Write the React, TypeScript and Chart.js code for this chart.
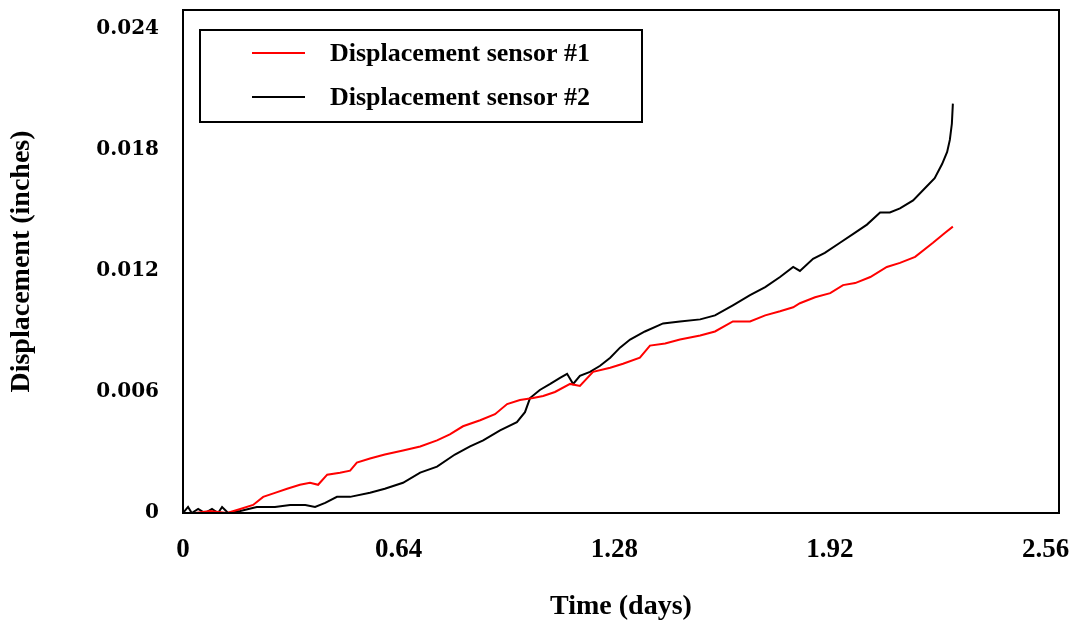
import React, { useEffect, useRef } from "react";
import { Chart, registerables } from "chart.js";

Chart.register(...registerables);

// Sensor #1 (red) readings: time in days, displacement in inches
const sensor1Days = [
  0.0, 0.036, 0.08, 0.131, 0.17, 0.208, 0.238, 0.273, 0.309, 0.347, 0.377, 0.401,
  0.428, 0.466, 0.496, 0.516, 0.555, 0.599, 0.653, 0.704, 0.754, 0.792, 0.831, 0.882,
  0.926, 0.962, 1.0, 1.039, 1.069, 1.104, 1.149, 1.178, 1.217, 1.268, 1.306, 1.356,
  1.386, 1.431, 1.475, 1.535, 1.579, 1.632, 1.683, 1.728, 1.772, 1.811, 1.831, 1.876,
  1.921, 1.959, 1.995, 2.04, 2.089, 2.128, 2.173, 2.226, 2.262, 2.285,
];
const sensor1Disp = [
  0.0, 0.0, 0.0001, 0.0, 0.0002, 0.0004, 0.0008, 0.001, 0.0012, 0.0014, 0.0015, 0.0014,
  0.0019, 0.002, 0.0021, 0.0025, 0.0027, 0.0029, 0.0031, 0.0033, 0.0036, 0.0039, 0.0043, 0.0046,
  0.0049, 0.0054, 0.0056, 0.0057, 0.0058, 0.006, 0.0064, 0.0063, 0.007, 0.0072, 0.0074, 0.0077,
  0.0083, 0.0084, 0.0086, 0.0088, 0.009, 0.0095, 0.0095, 0.0098, 0.01, 0.0102, 0.0104, 0.0107,
  0.0109, 0.0113, 0.0114, 0.0117, 0.0122, 0.0124, 0.0127, 0.0134, 0.0139, 0.0142,
];

// Sensor #2 (black) readings: time in days, displacement in inches
const sensor2Days = [
  0.0, 0.015, 0.026, 0.045, 0.065, 0.086, 0.104, 0.116, 0.134, 0.17, 0.219, 0.273,
  0.318, 0.363, 0.392, 0.422, 0.457, 0.496, 0.555, 0.599, 0.653, 0.704, 0.754, 0.807,
  0.852, 0.891, 0.941, 0.991, 1.015, 1.03, 1.059, 1.09, 1.119, 1.14, 1.158, 1.178,
  1.208, 1.238, 1.268, 1.297, 1.327, 1.371, 1.425, 1.475, 1.535, 1.579, 1.632, 1.683,
  1.728, 1.772, 1.811, 1.831, 1.87, 1.905, 1.95, 1.995, 2.03, 2.069, 2.098, 2.128,
  2.167, 2.202, 2.231, 2.253, 2.268, 2.276, 2.282, 2.285,
];
const sensor2Disp = [
  0.0, 0.0003, 0.0, 0.0002, 0.0, 0.0002, 0.0, 0.0003, 0.0, 0.0001, 0.0003, 0.0003,
  0.0004, 0.0004, 0.0003, 0.0005, 0.0008, 0.0008, 0.001, 0.0012, 0.0015, 0.002, 0.0023, 0.0029,
  0.0033, 0.0036, 0.0041, 0.0045, 0.005, 0.0057, 0.0061, 0.0064, 0.0067, 0.0069, 0.0064, 0.0068,
  0.007, 0.0073, 0.0077, 0.0082, 0.0086, 0.009, 0.0094, 0.0095, 0.0096, 0.0098, 0.0103, 0.0108,
  0.0112, 0.0117, 0.0122, 0.012, 0.0126, 0.0129, 0.0134, 0.0139, 0.0143, 0.0149, 0.0149, 0.0151,
  0.0155, 0.0161, 0.0166, 0.0173, 0.0179, 0.0185, 0.0193, 0.0203,
];

const seriesLabels = ["Displacement sensor #1", "Displacement sensor #2"];
const seriesColors = ["#ff0000", "#000000"];

const xTickValues = [0, 0.64, 1.28, 1.92, 2.56];
const yTickValues = [0, 0.006, 0.012, 0.018, 0.024];

const SERIF = "'Liberation Serif', 'Times New Roman', serif";
const WIDE_SERIF = "'DejaVu Serif', serif";

const toPoints = (xs: number[], ys: number[]) => xs.map((x, i) => ({ x, y: ys[i] }));

// Black frame around the plotting area
const framePlugin = {
  id: "plotFrame",
  afterDatasetsDraw(chart: any) {
    const { ctx, chartArea } = chart;
    ctx.save();
    ctx.strokeStyle = "#000";
    ctx.lineWidth = 2;
    ctx.strokeRect(chartArea.left, chartArea.top, chartArea.right - chartArea.left, chartArea.bottom - chartArea.top);
    ctx.restore();
  },
};

// Boxed legend in the upper left of the plot
const boxLegendPlugin = {
  id: "boxLegend",
  afterDraw(chart: any) {
    const { ctx, chartArea } = chart;
    const bx = chartArea.left + 17;
    const by = chartArea.top + 20;
    const bw = 442;
    const bh = 92;
    ctx.save();
    ctx.fillStyle = "#fff";
    ctx.fillRect(bx, by, bw, bh);
    ctx.strokeStyle = "#000";
    ctx.lineWidth = 2;
    ctx.strokeRect(bx, by, bw, bh);
    chart.data.datasets.forEach((ds: any, i: number) => {
      const y = by + 23 + i * 44;
      ctx.strokeStyle = ds.borderColor;
      ctx.lineWidth = 2;
      ctx.beginPath();
      ctx.moveTo(bx + 52, y);
      ctx.lineTo(bx + 105, y);
      ctx.stroke();
      ctx.fillStyle = "#000";
      ctx.font = `bold 26px ${SERIF}`;
      ctx.textBaseline = "middle";
      ctx.textAlign = "left";
      ctx.fillText(ds.label, bx + 130, y + 1);
    });
    ctx.restore();
  },
};

export default function App() {
  const canvasRef = useRef<HTMLCanvasElement | null>(null);

  useEffect(() => {
    if (!canvasRef.current) return;
    const chart = new Chart(canvasRef.current, {
      type: "line",
      data: {
        datasets: [
          {
            label: seriesLabels[0],
            data: toPoints(sensor1Days, sensor1Disp),
            borderColor: seriesColors[0],
            borderWidth: 2,
            pointRadius: 0,
            tension: 0,
            fill: false,
          },
          {
            label: seriesLabels[1],
            data: toPoints(sensor2Days, sensor2Disp),
            borderColor: seriesColors[1],
            borderWidth: 2,
            pointRadius: 0,
            tension: 0,
            fill: false,
          },
        ],
      },
      options: {
        responsive: false,
        animation: false,
        layout: { padding: { top: 10, right: 15, left: 0, bottom: 0 } },
        plugins: {
          legend: { display: false },
          tooltip: { enabled: false },
        },
        scales: {
          x: {
            type: "linear",
            min: 0,
            max: 2.6,
            grid: { display: false, drawTicks: false },
            border: { display: false },
            afterBuildTicks: (scale: any) => {
              scale.ticks = xTickValues.map((v) => ({ value: v }));
            },
            afterFit: (scale: any) => {
              scale.height = 115;
              scale.paddingLeft = 0;
              scale.paddingRight = 0;
            },
            ticks: {
              color: "#000",
              padding: 21,
              maxRotation: 0,
              font: { family: SERIF, size: 27, weight: "bold" },
              callback: (v: any) => (Number(v) === 0 ? "0" : Number(v).toFixed(2)),
            },
            title: {
              display: true,
              text: "Time (days)",
              color: "#000",
              font: { family: SERIF, size: 28, weight: "bold" },
              padding: { top: 0, bottom: 4 },
            },
          },
          y: {
            type: "linear",
            min: 0,
            max: 0.02494,
            grid: { display: false, drawTicks: false },
            border: { display: false },
            afterBuildTicks: (scale: any) => {
              scale.ticks = yTickValues.map((v) => ({ value: v }));
            },
            afterFit: (scale: any) => {
              scale.width = 183;
              scale.paddingTop = 0;
              scale.paddingBottom = 0;
            },
            ticks: {
              color: "#000",
              padding: 24,
              font: { family: WIDE_SERIF, size: 20, weight: "bold" },
              callback: (v: any) => (Number(v) === 0 ? "0" : Number(v).toFixed(3)),
            },
            title: {
              display: true,
              text: "Displacement (inches)",
              color: "#000",
              font: { family: SERIF, size: 28, weight: "bold" },
              padding: { top: 5, bottom: 0 },
            },
          },
        },
      },
      plugins: [framePlugin, boxLegendPlugin],
    });
    return () => chart.destroy();
  }, []);

  return (
    <div style={{ position: "fixed", left: 0, top: 0, width: 1074, height: 628, background: "#fff" }}>
      <canvas ref={canvasRef} width={1074} height={628} style={{ display: "block" }} />
    </div>
  );
}
